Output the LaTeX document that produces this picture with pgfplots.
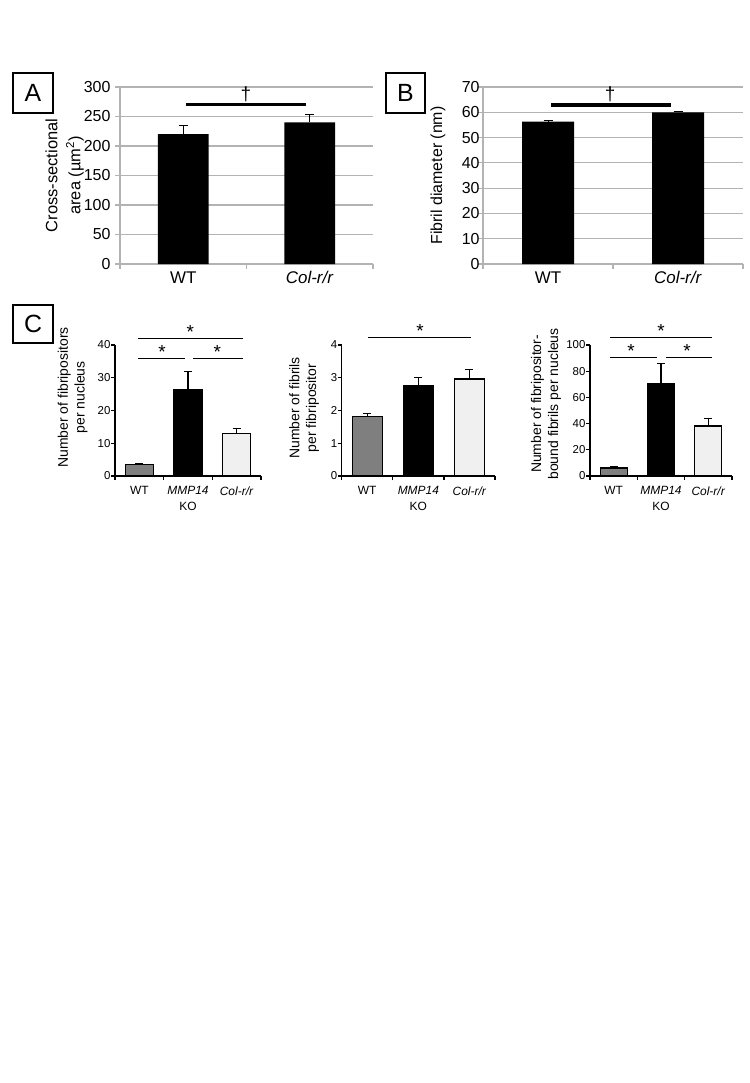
\documentclass[border=0pt]{standalone}
\usepackage{fontspec}
\setmainfont{Liberation Sans}
\usepackage{pgfplots}
\pgfplotsset{compat=1.18}
\definecolor{gridgray}{HTML}{B3B3B3}
\definecolor{wtgray}{HTML}{7F7F7F}
\definecolor{colgray}{HTML}{F0F0F0}
\pgfplotsset{
 panelAB/.style={
  scale only axis, anchor=south west,
  xmin=-0.5, xmax=1.5, ymin=0,
  axis x line*=bottom, axis y line*=left,
  axis line style={gridgray, line width=1.2bp, -},
  ymajorgrids, major grid style={gridgray, line width=1.2bp},
  tick align=outside, major tick length=0pt, minor tick length=5bp,
  minor tick style={gridgray, line width=1.2bp},
  xtick={0,1}, xticklabels={WT,\textit{Col-r/r}},
  minor xtick={-0.5,0.5,1.5},
  ticklabel style={font=\fontsize{16}{16}\selectfont},
  xticklabel style={font=\fontsize{17}{17}\selectfont, anchor=north, yshift=-4bp},
  /pgf/number format/assume math mode=true,
  ybar, bar width=0.4, clip=false,
 },
 barAB/.style={fill=black, draw=none, error bars/.cd, y dir=plus, y explicit,
  error bar style={black, line width=1bp},
  error mark options={rotate=90, mark size=4.5bp, line width=1bp, black}},
 panelC/.style={
  scale only axis, anchor=south west, height=131bp,
  xmin=-0.5, xmax=2.5, ymin=0,
  axis x line*=bottom, axis y line*=left,
  axis line style={black, line width=1.2bp, -},
  tick align=outside, major tick length=0pt, minor tick length=4bp,
  minor tick style={black, line width=1.2bp},
  xtick={0,1,2}, xticklabels={WT,{\textit{MMP14}\\KO},\textit{Col-r/r}},
  minor xtick={-0.5,0.5,1.5,2.5},
  xticklabel style={font=\fontsize{12}{16.3}\selectfont, anchor=north, align=center, yshift=-7bp},
  yticklabel style={font=\fontsize{11.5}{11.5}\selectfont, xshift=-1bp},
  ylabel style={anchor=center, align=center, font=\fontsize{14}{17}\selectfont},
  /pgf/number format/assume math mode=true,
  ybar, clip=false,
 },
 barC/.style={bar shift=0pt, draw=black, line width=1.2bp, error bars/.cd, y dir=plus, y explicit,
  error bar style={black, line width=1.2bp},
  error mark options={rotate=90, mark size=4bp, black, line width=1.2bp}},
 barWT/.style={fill=wtgray, barC},
 barKO/.style={fill=black, barC},
 barCol/.style={fill=colgray, barC},
}
\newcommand{\starnode}[2]{\node[anchor=base, font=\fontsize{19}{19}\selectfont, inner sep=0pt] at (axis cs:#1,#2) {*};}
\begin{document}
\begin{tikzpicture}
\path[use as bounding box] (0,0) rectangle (750bp,-1083bp);
% panel boxes
\draw[line width=1.2bp] (13bp,-73bp) rectangle (53bp,-113bp);
\node[font=\fontsize{25}{25}\selectfont] at (33bp,-93bp) {A};
\draw[line width=1.2bp] (386bp,-73bp) rectangle (425bp,-113bp);
\node[font=\fontsize{25}{25}\selectfont] at (405.5bp,-93bp) {B};
\draw[line width=1.2bp] (13bp,-305bp) rectangle (53bp,-343bp);
\node[font=\fontsize{25}{25}\selectfont] at (33bp,-324bp) {C};

% Panel A
\begin{axis}[panelAB, at={(120bp,-264bp)}, width=253bp, height=177bp,
  ymax=300, ytick={0,50,...,300}, minor ytick={0,50,...,300},
  ylabel={Cross-sectional\\area (µm\textsuperscript{2})},
  ylabel style={at={(axis description cs:-0.219,0.5)}, anchor=center, align=center, font=\fontsize{16.5}{23}\selectfont},
  yticklabel style={xshift=-6bp}]
\addplot[barAB] coordinates {(0,220) +- (0,14) (1,240) +- (0,13)};
\draw[line width=3.2bp] (axis cs:0.02,271) -- (axis cs:0.97,271);
\node[anchor=base, font=\fontsize{19}{19}\selectfont, yshift=4bp] at (axis cs:0.496,271) {†};
\end{axis}

% Panel B
\begin{axis}[panelAB, at={(483bp,-264bp)}, width=260bp, height=177bp,
  ymax=70, ytick={0,10,...,70}, minor ytick={0,10,...,70},
  ylabel={Fibril diameter (nm)},
  ylabel style={at={(axis description cs:-0.173,0.5)}, anchor=center, font=\fontsize{16}{16}\selectfont},
  yticklabel style={xshift=0bp}]
\addplot[barAB] coordinates {(0,56.3) +- (0,0.3) (1,60.0) +- (0,0.4)};
\draw[line width=3.2bp] (axis cs:0.023,62.9) -- (axis cs:0.946,62.9);
\node[anchor=base, font=\fontsize{19}{19}\selectfont, yshift=4bp] at (axis cs:0.477,62.9) {†};
\end{axis}

% Panel C1
\begin{axis}[panelC, at={(115bp,-476bp)}, width=146bp,
  ymax=40, ytick={0,10,...,40}, minor ytick={0,10,...,40}, bar width=0.58,
  ylabel={Number of fibripositors\\per nucleus},
  ylabel style={at={(axis description cs:-0.29,0.6)}}]
\addplot[barWT] coordinates {(0,3.5) +- (0,0.4)};
\addplot[barKO] coordinates {(1,26.3) +- (0,5.6)};
\addplot[barCol] coordinates {(2,13.1) +- (0,1.4)};
\draw[line width=1bp] (axis cs:-0.026,42.1) -- (axis cs:2.12,42.1);
\draw[line width=1bp] (axis cs:-0.026,36.0) -- (axis cs:0.943,36.0);
\draw[line width=1bp] (axis cs:1.108,36.0) -- (axis cs:2.12,36.0);
\starnode{1.046}{42.1}
\starnode{0.469}{36.0}
\starnode{1.603}{36.0}
\end{axis}

% Panel C2
\begin{axis}[panelC, at={(341.7bp,-476bp)}, width=153.3bp,
  ymax=4, ytick={0,1,...,4}, minor ytick={0,1,...,4}, bar width=0.59,
  ylabel={Number of fibrils\\per fibripositor},
  ylabel style={at={(axis description cs:-0.245,0.52)}}]
\addplot[barWT] coordinates {(0,1.81) +- (0,0.11)};
\addplot[barKO] coordinates {(1,2.77) +- (0,0.25)};
\addplot[barCol] coordinates {(2,2.96) +- (0,0.28)};
\draw[line width=1bp] (axis cs:0.016,4.22) -- (axis cs:2.035,4.22);
\starnode{1.035}{4.22}
\end{axis}

% Panel C3
\begin{axis}[panelC, at={(590bp,-476bp)}, width=142bp,
  ymax=100, ytick={0,20,...,100}, minor ytick={0,20,...,100}, bar width=0.57,
  ylabel={Number of fibripositor-\\bound fibrils per nucleus},
  ylabel style={at={(axis description cs:-0.31,0.55)}}]
\addplot[barWT] coordinates {(0,6.1) +- (0,1.0)};
\addplot[barKO] coordinates {(1,70.5) +- (0,15.3)};
\addplot[barCol] coordinates {(2,38.2) +- (0,5.6)};
\draw[line width=1bp] (axis cs:-0.077,105.5) -- (axis cs:2.08,105.5);
\draw[line width=1bp] (axis cs:-0.077,90.2) -- (axis cs:0.917,90.2);
\draw[line width=1bp] (axis cs:1.107,90.2) -- (axis cs:2.08,90.2);
\starnode{1.0}{105.5}
\starnode{0.367}{90.2}
\starnode{1.55}{90.2}
\end{axis}
\end{tikzpicture}
\end{document}
